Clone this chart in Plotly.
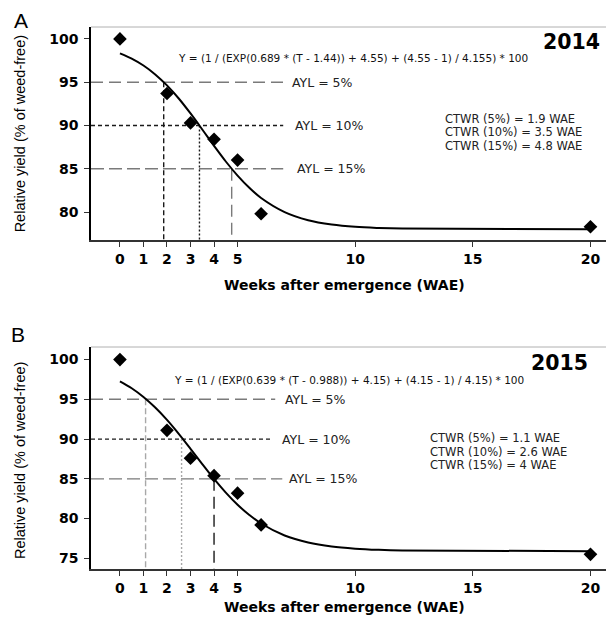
import plotly.graph_objects as go

# ---------------- data ----------------
weeks_obs = [0, 2, 3, 4, 5, 6, 20]
yield_2014 = [100.0, 93.7, 90.3, 88.4, 86.0, 79.8, 78.3]
yield_2015 = [100.0, 91.1, 87.6, 85.4, 83.2, 79.2, 75.5]

curve_t = [0, 0.5, 1, 1.5, 2, 2.5, 3, 3.5, 4, 4.5, 5, 5.5, 6, 7, 8, 9, 10, 11, 12, 20]
curve_2014 = [98.34, 97.73, 96.93, 95.90, 94.63, 93.12, 91.39, 89.54, 87.65, 85.84,
              84.21, 82.80, 81.63, 80.00, 79.06, 78.56, 78.29, 78.16, 78.09, 78.02]
curve_2015 = [97.26, 96.39, 95.29, 93.96, 92.41, 90.66, 88.78, 86.86, 84.99, 83.27,
              81.74, 80.45, 79.38, 77.87, 76.99, 76.49, 76.22, 76.07, 75.99, 75.90]

ayl_levels = [95, 90, 85]
ayl_labels = ["AYL = 5%", "AYL = 10%", "AYL = 15%"]
ctwr_2014 = [1.86, 3.38, 4.75]
ctwr_2015 = [1.09, 2.62, 4.0]
ctwr_text_2014 = ["CTWR (5%) = 1.9 WAE", "CTWR (10%) = 3.5 WAE", "CTWR (15%) = 4.8 WAE"]
ctwr_text_2015 = ["CTWR (5%) = 1.1 WAE", "CTWR (10%) = 2.6 WAE", "CTWR (15%) = 4 WAE"]
hline_end_2014 = [6.94, 6.94, 6.94]
hline_end_2015 = [6.6, 6.5, 6.9]

eq_2014 = "Y = (1 / (EXP(0.689 * (T - 1.44)) + 4.55) + (4.55 - 1) / 4.155) * 100"
eq_2015 = "Y = (1 / (EXP(0.639 * (T - 0.988)) + 4.15) + (4.15 - 1) / 4.15) * 100"

x_ticks = [0, 1, 2, 3, 4, 5, 10, 15, 20]
y_ticks_2014 = [80, 85, 90, 95, 100]
y_ticks_2015 = [75, 80, 85, 90, 95, 100]

X_RANGE = [-1.23, 21.0]
Y_RANGE_2014 = [76.77, 101.38]
Y_RANGE_2015 = [73.66, 101.58]

# ---------------- styles ----------------
GRAY = "#7a7a7a"
LIGHT = "#a8a8a8"
DARK = "#1a1a1a"
hstyle = [dict(color=GRAY, dash="12px,6px"), dict(color=DARK, dash="4px,3px"), dict(color=GRAY, dash="13px,5px")]
vstyle_2014 = [dict(color=DARK, dash="5px,3px"), dict(color=DARK, dash="2px,2px"), dict(color=GRAY, dash="12px,6px")]
vstyle_2015 = [dict(color=LIGHT, dash="6px,3px"), dict(color=LIGHT, dash="2px,2px"), dict(color=DARK, dash="12px,6px")]

fig = go.Figure()

def add_panel(xa, ya, obs, curve, ctwr, hend, vstyles, ymin):
    for lvl, end, hs in zip(ayl_levels, hend, hstyle):
        fig.add_trace(go.Scatter(x=[X_RANGE[0], end], y=[lvl, lvl], mode="lines",
                                 line=dict(width=1.4, **hs), xaxis=xa, yaxis=ya,
                                 showlegend=False, hoverinfo="skip"))
    for lvl, xv, vs in zip(ayl_levels, ctwr, vstyles):
        fig.add_trace(go.Scatter(x=[xv, xv], y=[lvl, ymin], mode="lines",
                                 line=dict(width=1.4, **vs), xaxis=xa, yaxis=ya,
                                 showlegend=False, hoverinfo="skip"))
    fig.add_trace(go.Scatter(x=curve_t, y=curve, mode="lines", line=dict(color="black", width=2),
                             line_shape="spline", xaxis=xa, yaxis=ya, showlegend=False))
    fig.add_trace(go.Scatter(x=weeks_obs, y=obs, mode="markers",
                             marker=dict(symbol="diamond", size=10.5, color="black"),
                             xaxis=xa, yaxis=ya, showlegend=False))

add_panel("x", "y", yield_2014, curve_2014, ctwr_2014, hline_end_2014, vstyle_2014, Y_RANGE_2014[0])
add_panel("x2", "y2", yield_2015, curve_2015, ctwr_2015, hline_end_2015, vstyle_2015, Y_RANGE_2015[0])

tickfont = dict(family="DejaVu Sans", size=14, color="black", weight="bold")
common_x = dict(range=X_RANGE, tickvals=x_ticks, ticks="outside", ticklen=5, tickcolor="#333",
                showline=True, linecolor="#333", linewidth=1.5, showgrid=False, zeroline=False,
                tickfont=tickfont, ticklabelstandoff=0)
common_y = dict(ticks="outside", ticklen=5, tickcolor="#333", showline=True, linecolor="black",
                linewidth=1.5, showgrid=False, zeroline=False, tickfont=tickfont, ticklabelstandoff=3)

# page has an 8px body margin -> figure is 606x616 placed at (8, 8)
top_lo = (561 - 232) / 542
bot_hi = (561 - 339) / 542
fig.update_layout(
    width=606, height=616,
    margin=dict(l=83, r=0, t=19, b=55),
    paper_bgcolor="white", plot_bgcolor="white",
    xaxis=dict(domain=[0, 1], anchor="y", **common_x),
    yaxis=dict(domain=[top_lo, 1], anchor="x", range=Y_RANGE_2014, tickvals=y_ticks_2014, **common_y),
    xaxis2=dict(domain=[0, 1], anchor="y2", **common_x),
    yaxis2=dict(domain=[0, bot_hi], anchor="x2", range=Y_RANGE_2015, tickvals=y_ticks_2015, **common_y),
)

# top borders
for xd, yd in [("x domain", "y domain"), ("x2 domain", "y2 domain")]:
    fig.add_shape(type="line", xref=xd, yref=yd, x0=0, x1=1, y0=1, y1=1,
                  line=dict(color="#b0b0b0", width=1))

def ann(text, x, y, xref, yref, size, family="DejaVu Sans", xanchor="left", weight="normal", color="black"):
    fig.add_annotation(text=text, x=x, y=y, xref=xref, yref=yref, showarrow=False,
                       xanchor=xanchor, yanchor="middle",
                       font=dict(family=family, size=size, color=color, weight=weight))

def panel_text(xa, ya, year, eq, ctwr_txt, year_x, year_y, eq_x, eq_y, ctwr_x, ctwr_ys, ayl_x):
    ann(year, year_x, year_y, xa, ya, 20.5, weight="bold", xanchor="right")
    ann(eq, eq_x, eq_y, xa, ya, 10.5, xanchor="center", color="#111")
    for lbl, lvl, ax in zip(ayl_labels, ayl_levels, ayl_x):
        ann(lbl, ax, lvl, xa, ya, 12.5, color="#222")
    for t, yv in zip(ctwr_txt, ctwr_ys):
        ann(t, ctwr_x, yv, xa, ya, 11.5, color="#222")

panel_text("x", "y", "2014", eq_2014, ctwr_text_2014, 20.47, 99.65, 9.89, 97.81,
           13.74, [90.78, 89.22, 87.66], [7.23, 7.36, 7.45])
panel_text("x2", "y2", "2015", eq_2015, ctwr_text_2015, 20.0, 99.54, 9.74, 97.4,
           13.1, [90.12, 88.42, 86.72], [6.94, 6.81, 7.1])

# axis titles
for xd, yd, ty in [("x domain", "y domain", -0.21), ("x2 domain", "y2 domain", -0.17)]:
    fig.add_annotation(text="Weeks after emergence (WAE)", x=0.485, y=ty,
                       xref=xd, yref=yd, showarrow=False, xanchor="center", yanchor="middle",
                       font=dict(family="DejaVu Sans", size=14, color="black", weight="bold"))
    fig.add_annotation(text="Relative yield (% of weed-free)", x=-0.136, y=0.5 if yd == "y domain" else 0.49,
                       xref=xd, yref=yd, showarrow=False, xanchor="center", yanchor="middle",
                       textangle=-90,
                       font=dict(family="Liberation Sans Narrow, Liberation Sans", size=14.5, color="black"))

# panel letters
fig.add_annotation(text="A", x=-0.152, y=1.0 + 7 / 542, xref="paper", yref="paper", showarrow=False,
                   xanchor="left", yanchor="middle", font=dict(family="Liberation Sans", size=21, color="black"))
fig.add_annotation(text="B", x=-0.157, y=(561 - 326.5) / 542, xref="paper", yref="paper", showarrow=False,
                   xanchor="left", yanchor="middle", font=dict(family="Liberation Sans", size=21, color="black"))

fig.write_html("out.html")
